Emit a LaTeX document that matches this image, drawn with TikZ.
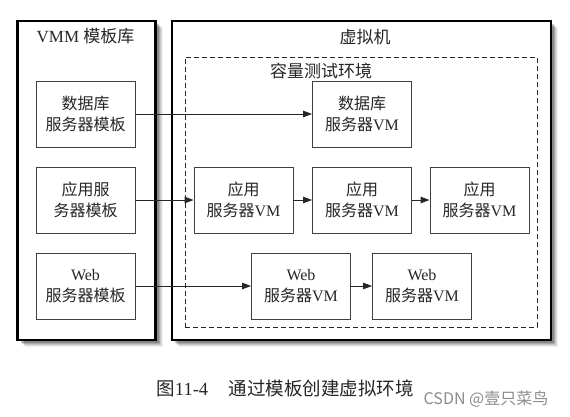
\documentclass[tikz,border=0pt]{standalone}
\usepackage{fontspec}
\setmainfont{Liberation Serif}
\newfontfamily\cjk{Noto Sans CJK SC}
\usetikzlibrary{arrows.meta}
\begin{document}
\begin{tikzpicture}[x=1pt,y=-1pt,
  bigbox/.style={draw=black, line width=2.2pt, fill=white, inner sep=0pt},
  dashbox/.style={draw=black!85, line width=0.9pt, dashed, dash pattern=on 5pt off 3pt, inner sep=0pt},
  tbox/.style={draw=black!75, line width=0.9pt, fill=white, minimum width=99pt, minimum height=66pt, align=center, inner sep=0pt, font=\fontsize{16}{21}\selectfont, text=black!85},
  arr/.style={draw=black!85, line width=0.9pt, -{Triangle[length=9pt,width=6.5pt]}},
  ttl/.style={font=\fontsize{17}{20}\selectfont, text=black!85, inner sep=0pt},
  shd/.style={fill=black}]
\useasboundingbox (0,0) rectangle (570,416);
\fill[white] (0,0) rectangle (570,416);
% shadows
\foreach \d/\o in {7/0.06,6/0.08,5/0.1,4/0.14,3/0.2} {
  \fill[black, opacity=\o] (17.5+\d,21+\d) rectangle (155.5+\d,340+\d);
  \fill[black, opacity=\o] (172+\d,21+\d) rectangle (551+\d,340+\d);
}
% big boxes
\node[bigbox, minimum width=138pt, minimum height=319pt] (lib) at (86.5,180.5) {};
\node[bigbox, minimum width=379pt, minimum height=319pt] (vm) at (361.5,180.5) {};
\node[dashbox, minimum width=352pt, minimum height=270pt] (env) at (361,192) {};
% titles
\node[ttl] (libT) at (85.5,36) {VMM {\cjk 模板库}};
\node[ttl] (vmT) at (365,37) {{\cjk 虚拟机}};
\node[ttl] (envT) at (321,71) {{\cjk 容量测试环境}};
% templates
\node[tbox] (tDB) at (85.5,114) {{\cjk 数据库}\\{\cjk 服务器模板}};
\node[tbox] (tApp) at (85.5,200) {{\cjk 应用服}\\{\cjk 务器模板}};
\node[tbox] (tWeb) at (85.5,286) {Web\\{\cjk 服务器模板}};
% VMs
\node[tbox] (vDB) at (362,114) {{\cjk 数据库}\\{\cjk 服务器}VM};
\node[tbox] (vApp1) at (243.5,200) {{\cjk 应用}\\{\cjk 服务器}VM};
\node[tbox] (vApp2) at (362,200) {{\cjk 应用}\\{\cjk 服务器}VM};
\node[tbox] (vApp3) at (479.5,200) {{\cjk 应用}\\{\cjk 服务器}VM};
\node[tbox] (vWeb1) at (301,286) {Web\\{\cjk 服务器}VM};
\node[tbox] (vWeb2) at (422,286) {Web\\{\cjk 服务器}VM};
% arrows
\draw[arr] (tDB) -- (vDB);
\draw[arr] (tApp) -- (vApp1);
\draw[arr] (vApp1) -- (vApp2);
\draw[arr] (vApp2) -- (vApp3);
\draw[arr] (tWeb) -- (vWeb1);
\draw[arr] (vWeb1) -- (vWeb2);
% caption
\node[font=\fontsize{18.5}{22}\selectfont, text=black!85, inner sep=0pt] (cap) at (285,388) {{\cjk 图}11-4\hspace{1.1em}{\cjk 通过模板创建虚拟环境}};
\node[font=\cjk\fontsize{16}{20}\selectfont, text=black!45, inner sep=0pt] (wm) at (486,399) {CSDN @{壹只菜鸟}};
\end{tikzpicture}
\end{document}
